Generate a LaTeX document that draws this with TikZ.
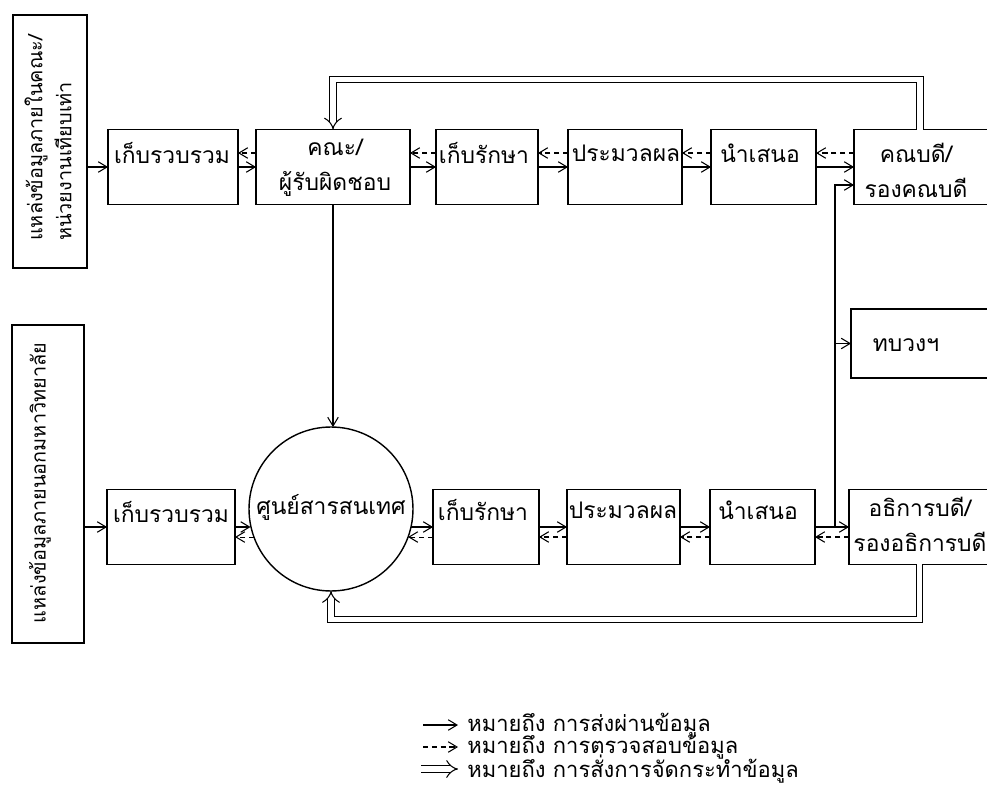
\documentclass[tikz,border=0pt]{standalone}
\usepackage{fontspec}
\newfontfamily\thaifont[Script=Thai]{Loma}
\usetikzlibrary{arrows.meta}

\begin{document}
\begin{tikzpicture}[x=0.02cm, y=-0.02cm,
  box/.style={draw, line width=0.8pt, inner sep=0pt, outer sep=0pt,
              minimum height=1.5cm},
  txt/.style={font=\thaifont\fontsize{13}{20}\selectfont, inner sep=0pt,
              align=center},
  side/.style={txt, rotate=90, font=\thaifont\fontsize{11.3}{16.4}\selectfont},
  keytxt/.style={txt, anchor=west, font=\thaifont\fontsize{12.5}{16}\selectfont},
  flow/.style={line width=0.6pt, -{Straight Barb[length=5pt, width=6pt]}},
  check/.style={flow, dash pattern=on 3pt off 2pt},
  order/.style={double, double distance=3pt, line width=0.6pt, -{Implies}}]
  \useasboundingbox (0,0) rectangle (987,787);
  \clip (0,0) rectangle (987,787);

  % Sources
  \node[box, minimum width=1.48cm, minimum height=5.06cm] (srcA) at (50,141.5) {};
  \node[side, align=left] (srcA-t) at (48,138)
    {แหล่งข้อมูลภายในคณะ/\\หน่วยงานเทียบเท่า};
  \node[box, minimum width=1.44cm, minimum height=6.36cm] (srcB) at (48,484) {};
  \node[side] (srcB-t) at (40,483) {แหล่งข้อมูลภายนอกมหาวิทยาลัย};

  % Faculty row
  \node[box, minimum width=2.6cm]  (colA)  at (173,167) {};
  \node[box, minimum width=3.08cm] (fac)   at (333,167) {};
  \node[box, minimum width=2.04cm] (keepA) at (487,167) {};
  \node[box, minimum width=2.28cm] (procA) at (625,167) {};
  \node[box, minimum width=2.1cm]  (presA) at (763.5,167) {};
  \node[box, minimum width=2.72cm] (dean)  at (922,167) {};
  \node[txt] (colA-t)  at (172,153) {เก็บรวบรวม};
  \node[txt] (fac-t)   at (335,168) {คณะ/\\ผู้รับผิดชอบ};
  \node[txt] (keepA-t) at (484,153) {เก็บรักษา};
  \node[txt] (procA-t) at (626,153) {ประมวลผล};
  \node[txt] (presA-t) at (760,153) {นำเสนอ};
  \node[txt] (dean-t)  at (916,170) {คณบดี/\\รองคณบดี};

  % University row
  \node[box, minimum width=2.56cm] (colB)  at (171,527) {};
  \node[circle, draw, line width=0.8pt, inner sep=0pt, outer sep=0pt,
        minimum size=3.28cm] (info) at (331,509) {};
  \node[box, minimum width=2.12cm] (keepB) at (486,527) {};
  \node[box, minimum width=2.26cm] (procB) at (623.5,527) {};
  \node[box, minimum width=2.1cm]  (presB) at (762.5,527) {};
  \node[box, minimum width=2.82cm] (rect)  at (919.5,527) {};
  \node[box, minimum width=2.78cm, minimum height=1.38cm] (moe) at (920.5,343.5) {};
  \node[txt] (colB-t)  at (171,512) {เก็บรวบรวม};
  \node[txt] (info-t)  at (331,507) {ศูนย์สารสนเทศ};
  \node[txt] (keepB-t) at (483,510) {เก็บรักษา};
  \node[txt] (procB-t) at (623,510) {ประมวลผล};
  \node[txt] (presB-t) at (758,510) {นำเสนอ};
  \node[txt] (rect-t)  at (920,524) {อธิการบดี/\\รองอธิการบดี};
  \node[txt] (moe-t)   at (906,345) {ทบวงฯ};

  % Flows, faculty row
  \draw[flow] (srcA.east |- colA.west) -- (colA.west);
  \foreach \a/\b in {colA/fac, fac/keepA, keepA/procA, procA/presA, presA/dean} {
    \draw[flow] (\a.east) -- (\b.west);
    \draw[check] ([yshift=0.28cm]\b.west) -- ([yshift=0.28cm]\a.east);
  }

  % Flows, university row
  \draw[flow] (srcB.east |- colB.west) -- (colB.west);
  \draw[flow] (colB.east) -- (colB.east -| info.191);
  \draw[check] (info.200) -- (info.200 -| colB.east);
  \draw[flow] (info.349 |- keepB.west) -- (keepB.west);
  \draw[check] (keepB.west |- info.340) -- (info.340);
  \foreach \a/\b in {keepB/procB, procB/presB, presB/rect} {
    \draw[flow] (\a.east) -- (\b.west);
    \draw[check] ([yshift=-0.2cm]\b.west) -- ([yshift=-0.2cm]\a.east);
  }

  % Links between rows
  \draw[flow] (fac.south) -- (fac.south |- info.north);
  \coordinate (jn) at (835,527);
  \draw[flow] (jn) |- ([yshift=-0.36cm]dean.west);
  \draw[flow] (jn |- moe.west) -- (moe.west);

  % Orders
  \draw[order] ([xshift=-0.04cm]dean.north) -- ++(0,-50) -| (fac.north);
  \draw[order] (rect.south) -- ++(0,55) -| (info.south);

  % Key
  \coordinate (k1a) at (423,725); \coordinate (k1b) at (458,725);
  \coordinate (k2a) at (423,747); \coordinate (k2b) at (458,747);
  \coordinate (k3a) at (421,769); \coordinate (k3b) at (458,769);
  \draw[flow] (k1a) -- (k1b);
  \draw[check] (k2a) -- (k2b);
  \draw[order] (k3a) -- (k3b);
  \node[keytxt] (key1) at (467,725) {หมายถึง การส่งผ่านข้อมูล};
  \node[keytxt] (key2) at (467,747) {หมายถึง การตรวจสอบข้อมูล};
  \node[keytxt] (key3) at (467,769) {หมายถึง การสั่งการจัดกระทำข้อมูล};
\end{tikzpicture}
\end{document}
